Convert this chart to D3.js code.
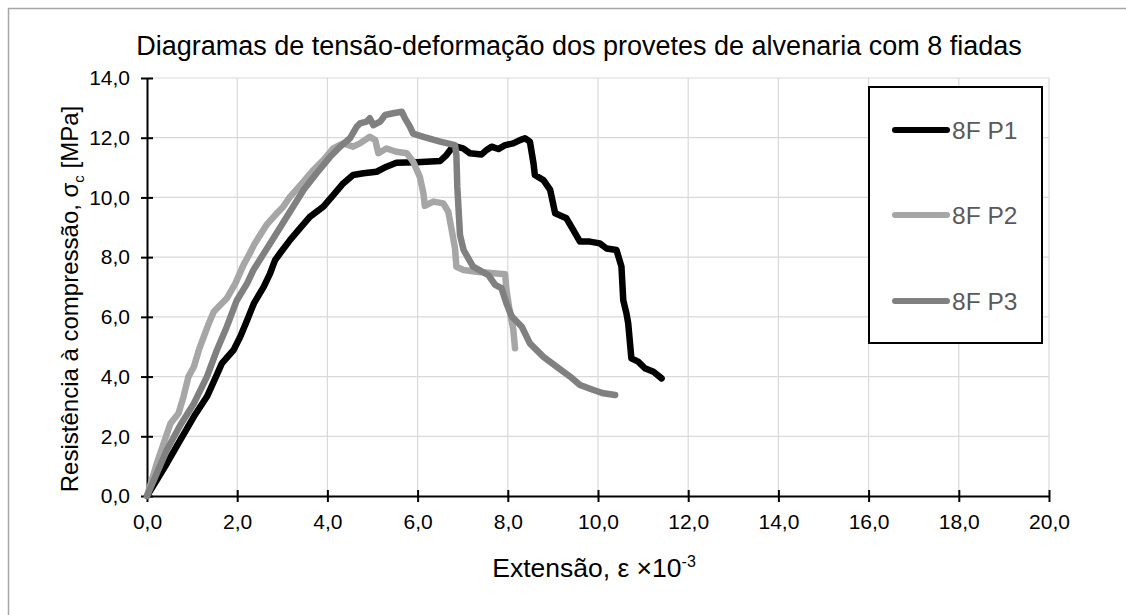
<!DOCTYPE html>
<html>
<head>
<meta charset="utf-8">
<script src="https://cdnjs.cloudflare.com/ajax/libs/d3/7.8.5/d3.min.js"></script>
<style>
  html, body { margin: 0; padding: 0; background: #fff; }
  svg { display: block; font-family: "Liberation Sans", Arial, sans-serif; }
</style>
</head>
<body>
<svg id="chart" width="1126" height="615"></svg>
<script>
// Stress-strain curves of the 8-course masonry specimens (strain ×10^-3, stress in MPa)
const seriesNames = ["8F P1", "8F P2", "8F P3"];

const p1Strain = [0,0.44,0.74,1.04,1.33,1.48,1.66,1.92,2.07,2.22,2.37,2.59,2.73,2.84,2.95,3.17,3.39,3.61,3.91,4.13,4.35,4.57,4.80,5.09,5.31,5.53,5.98,6.50,6.64,6.75,6.86,7.01,7.16,7.42,7.53,7.64,7.79,7.94,8.12,8.27,8.38,8.49,8.57,8.60,8.79,8.94,9.05,9.30,9.45,9.60,9.82,10.04,10.19,10.41,10.52,10.56,10.63,10.67,10.74,10.89,11.04,11.23,11.41];
const p1Stress = [0,1.09,1.88,2.66,3.33,3.83,4.44,4.89,5.34,5.89,6.45,7.01,7.46,7.90,8.13,8.57,8.96,9.35,9.69,10.08,10.47,10.75,10.81,10.86,11.03,11.16,11.18,11.22,11.42,11.64,11.70,11.64,11.48,11.44,11.59,11.70,11.62,11.75,11.81,11.92,11.98,11.87,11.14,10.75,10.58,10.25,9.47,9.30,8.91,8.52,8.52,8.46,8.29,8.24,7.68,6.56,6.12,5.78,4.61,4.50,4.28,4.16,3.94];

const p2Strain = [0,0.22,0.52,0.70,0.81,0.92,1.04,1.15,1.26,1.37,1.48,1.77,1.96,2.14,2.28,2.39,2.65,2.88,3.02,3.17,3.47,3.69,3.91,4.13,4.35,4.57,4.72,4.94,5.06,5.13,5.31,5.53,5.76,5.90,6.05,6.13,6.16,6.35,6.57,6.68,6.75,6.83,6.86,7.02,7.31,7.94,7.97,8.05,8.12,8.16];
const p2Stress = [0,1.10,2.43,2.77,3.33,4.00,4.33,4.89,5.34,5.78,6.17,6.62,7.12,7.74,8.13,8.46,9.08,9.47,9.69,10.02,10.53,10.92,11.25,11.64,11.81,11.70,11.81,12.03,11.92,11.48,11.64,11.53,11.48,11.20,10.69,10.13,9.72,9.86,9.80,9.52,8.96,8.29,7.68,7.57,7.51,7.43,6.90,6.12,5.60,4.95];

const p3Strain = [0,0.44,0.74,1.04,1.33,1.55,1.77,1.99,2.22,2.36,2.73,3.10,3.47,3.76,4.06,4.28,4.50,4.65,4.72,4.87,4.94,5.02,5.17,5.28,5.46,5.65,5.72,5.83,5.90,6.13,6.50,6.83,6.86,6.88,6.94,7.02,7.23,7.57,7.72,7.86,7.97,8.09,8.31,8.49,8.79,9.08,9.38,9.60,9.90,10.12,10.38];
const p3Stress = [0,1.54,2.38,3.10,4.00,4.89,5.67,6.55,7.12,7.57,8.46,9.35,10.25,10.81,11.36,11.70,11.98,12.37,12.48,12.54,12.65,12.42,12.54,12.76,12.82,12.87,12.65,12.37,12.14,12.03,11.87,11.75,11.42,10.36,8.74,8.24,7.68,7.40,7.07,6.96,6.45,6.01,5.67,5.11,4.66,4.33,4.00,3.72,3.55,3.44,3.38];

const xTicks = [0,2,4,6,8,10,12,14,16,18,20];
const yTicks = [0,2,4,6,8,10,12,14];

const chartTitle = "Diagramas de tensão-deformação dos provetes de alvenaria com 8 fiadas";

const seriesColors = ["#000000", "#a6a6a6", "#808080"];

const series = [
  { name: seriesNames[0], xs: p1Strain, ys: p1Stress, color: seriesColors[0] },
  { name: seriesNames[1], xs: p2Strain, ys: p2Stress, color: seriesColors[1] },
  { name: seriesNames[2], xs: p3Strain, ys: p3Stress, color: seriesColors[2] }
];

const svg = d3.select("#chart");
const W = 1126, H = 615;
const plot = { left: 147, top: 78, right: 1049, bottom: 496 };

// chart frame (runs past the canvas on the right and bottom)
svg.append("rect")
  .attr("x", 8.5).attr("y", 8.5)
  .attr("width", W + 20).attr("height", H + 20)
  .attr("fill", "#fff").attr("stroke", "#a6a6a6").attr("stroke-width", 1.5);

const x = d3.scaleLinear().domain([0, 20]).range([plot.left, plot.right]);
const y = d3.scaleLinear().domain([0, 14]).range([plot.bottom, plot.top]);

// gridlines
const grid = svg.append("g").attr("class", "grid");
grid.selectAll("line.v").data(xTicks.filter(d => d > 0)).join("line")
  .attr("class", "v")
  .attr("x1", d => x(d)).attr("x2", d => x(d))
  .attr("y1", plot.top).attr("y2", plot.bottom)
  .attr("stroke", "#d9d9d9").attr("stroke-width", 1.2);
grid.selectAll("line.h").data(yTicks.filter(d => d > 0)).join("line")
  .attr("class", "h")
  .attr("x1", plot.left).attr("x2", plot.right)
  .attr("y1", d => y(d)).attr("y2", d => y(d))
  .attr("stroke", "#d9d9d9").attr("stroke-width", 1.2);

// axes with ticks crossing the axis line
const fmt = d => d3.format(".1f")(d).replace(".", ",");

const xAxis = svg.append("g")
  .attr("transform", `translate(0,${plot.bottom})`)
  .call(d3.axisBottom(x).tickValues(xTicks).tickFormat(fmt).tickSizeInner(6).tickSizeOuter(0).tickPadding(12));
xAxis.selectAll(".tick line").attr("y1", -6).attr("stroke", "#000").attr("stroke-width", 2);
xAxis.select(".domain").attr("stroke", "#000").attr("stroke-width", 2);
xAxis.selectAll(".tick text").attr("font-size", 21).attr("fill", "#000")
  .attr("font-family", "Liberation Sans, Arial, sans-serif");

const yAxis = svg.append("g")
  .attr("transform", `translate(${plot.left},0)`)
  .call(d3.axisLeft(y).tickValues(yTicks).tickFormat(fmt).tickSizeInner(6).tickSizeOuter(0).tickPadding(11));
yAxis.selectAll(".tick line").attr("x1", 6).attr("stroke", "#000").attr("stroke-width", 2);
yAxis.select(".domain").attr("stroke", "#000").attr("stroke-width", 2);
yAxis.selectAll(".tick text").attr("font-size", 21).attr("fill", "#000")
  .attr("font-family", "Liberation Sans, Arial, sans-serif");

// curves
const line = d3.line().x(d => x(d[0])).y(d => y(d[1]));
const curves = svg.append("g").attr("class", "curves");
series.forEach(s => {
  const pts = s.xs.map((v, i) => [v, s.ys[i]]);
  curves.append("path")
    .datum(pts)
    .attr("d", line)
    .attr("fill", "none")
    .attr("stroke", s.color)
    .attr("stroke-width", 6.5)
    .attr("stroke-linejoin", "round")
    .attr("stroke-linecap", "round");
});

// title
svg.append("text")
  .attr("x", 579).attr("y", 55)
  .attr("text-anchor", "middle")
  .attr("font-size", 27).attr("fill", "#000")
  .text(chartTitle);

// x axis title
const xt = svg.append("text")
  .attr("x", 594).attr("y", 577)
  .attr("text-anchor", "middle")
  .attr("font-size", 26.5).attr("fill", "#000");
xt.append("tspan").text("Extensão, ε ×10");
xt.append("tspan").attr("dy", -10).attr("font-size", 16).text("-3");

// y axis title
const yt = svg.append("text")
  .attr("transform", `translate(78,${(plot.top + plot.bottom) / 2 + 12}) rotate(-90)`)
  .attr("text-anchor", "middle")
  .attr("font-size", 24).attr("fill", "#000");
yt.append("tspan").text("Resistência à compressão, σ");
yt.append("tspan").attr("dy", 6).attr("font-size", 15).text("c");
yt.append("tspan").attr("dy", -6).text(" [MPa]");

// legend
const legend = svg.append("g");
legend.append("rect")
  .attr("x", 869).attr("y", 87).attr("width", 173).attr("height", 256)
  .attr("fill", "#fff").attr("stroke", "#000").attr("stroke-width", 2);
const legendY = [130, 215, 301];
series.forEach((s, i) => {
  legend.append("line")
    .attr("x1", 895).attr("x2", 947)
    .attr("y1", legendY[i]).attr("y2", legendY[i])
    .attr("stroke", s.color).attr("stroke-width", 6).attr("stroke-linecap", "round");
  legend.append("text")
    .attr("x", 952).attr("y", legendY[i] + 9)
    .attr("font-size", 24.5).attr("fill", "#595959")
    .text(s.name);
});
</script>
</body>
</html>
